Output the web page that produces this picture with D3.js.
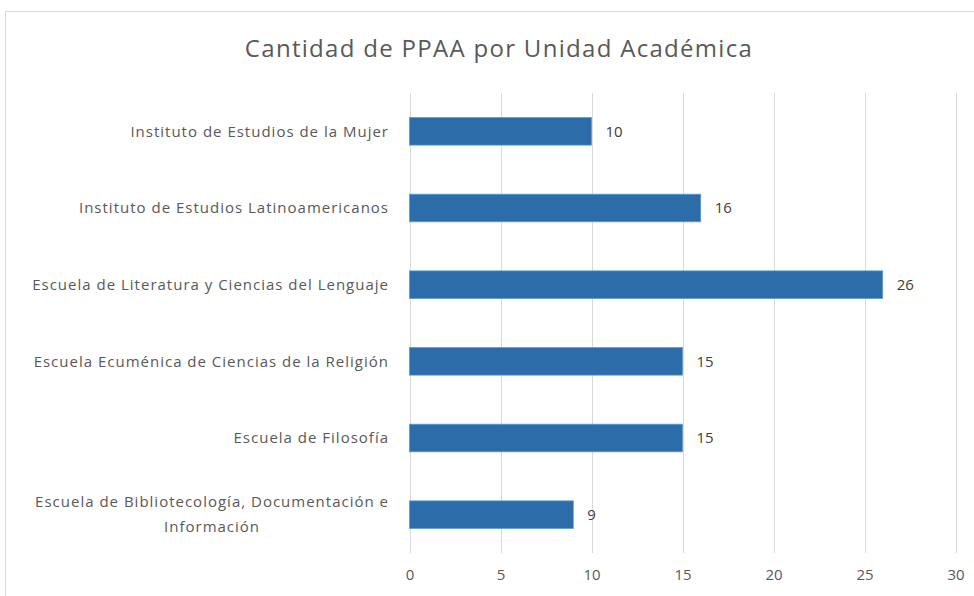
<!DOCTYPE html>
<meta charset="utf-8">
<script src="https://d3js.org/d3.v7.min.js"></script>
<style>
  body { margin: 0; background: #fff; }
  text { font-family: "Open Sans", "Noto Sans", sans-serif; }
</style>
<body>
<div id="chart"></div>
<script>
  // data (top to bottom)
  var categories = [
    "Instituto de Estudios de la Mujer",
    "Instituto de Estudios Latinoamericanos",
    "Escuela de Literatura y Ciencias del Lenguaje",
    "Escuela Ecuménica de Ciencias de la Religión",
    "Escuela de Filosofía",
    "Escuela de Bibliotecología, Documentación e|Información"
  ];
  var values = [10, 16, 26, 15, 15, 9];
  var xTicks = [0, 5, 10, 15, 20, 25, 30];

  var width = 974, height = 596;
  var margin = { top: 93, left: 409.5, right: 18.5, bottom: 43 };

  var svg = d3.select("#chart").append("svg")
    .attr("width", width)
    .attr("height", height);

  // outer frame of the chart area
  svg.append("rect")
    .attr("x", 5.5).attr("y", 11.5)
    .attr("width", width + 10).attr("height", height + 10)
    .attr("fill", "#fff")
    .attr("stroke", "#d9d9d9");

  // title
  svg.append("text")
    .attr("x", 499).attr("y", 57)
    .attr("text-anchor", "middle")
    .attr("font-size", "24px")
    .attr("letter-spacing", "1.3px")
    .attr("fill", "#595959")
    .text("Cantidad de PPAA por Unidad Académica");

  var x = d3.scaleLinear().domain([0, 30]).range([margin.left, width - margin.right]);
  var y = d3.scaleBand().domain(categories)
    .range([margin.top, height - margin.bottom])
    .paddingInner(0.64).paddingOuter(0.32);

  // gridlines
  svg.append("g").selectAll("line")
    .data(xTicks)
    .enter().append("line")
    .attr("x1", function (d) { return Math.round(x(d)) + 0.5; })
    .attr("x2", function (d) { return Math.round(x(d)) + 0.5; })
    .attr("y1", margin.top)
    .attr("y2", height - margin.bottom)
    .attr("stroke", "#d9d9d9")
    .attr("stroke-width", 1);

  // x axis labels
  var xAxis = svg.append("g")
    .attr("transform", "translate(0," + (height - margin.bottom) + ")")
    .call(d3.axisBottom(x).tickValues(xTicks).tickSize(0).tickPadding(16));
  xAxis.select(".domain").remove();
  xAxis.selectAll("text")
    .attr("font-family", "Open Sans, Noto Sans, sans-serif")
    .attr("font-size", "15px")
    .attr("fill", "#595959");

  // bars
  svg.append("g").selectAll("rect")
    .data(categories)
    .enter().append("rect")
    .attr("x", x(0))
    .attr("y", function (d) { return y(d); })
    .attr("width", function (d, i) { return x(values[i]) - x(0); })
    .attr("height", y.bandwidth())
    .attr("fill", "#2c6ca8")
    .attr("stroke", "#5b9bd5")
    .attr("stroke-width", 0.8);

  // value labels
  svg.append("g").selectAll("text")
    .data(categories)
    .enter().append("text")
    .attr("x", function (d, i) { return x(values[i]) + 14; })
    .attr("y", function (d) { return y(d) + y.bandwidth() / 2; })
    .attr("dy", "0.35em")
    .attr("font-size", "15px")
    .attr("fill", "#404040")
    .text(function (d, i) { return values[i]; });

  // category labels (wrapped label is centred under its first line)
  var labelRight = 389;
  var labels = svg.append("g")
    .attr("font-size", "15px")
    .attr("letter-spacing", "1px")
    .attr("fill", "#595959");
  categories.forEach(function (c) {
    var lines = c.split("|");
    var cy = y(c) + y.bandwidth() / 2;
    if (lines.length === 1) {
      labels.append("text")
        .attr("x", labelRight)
        .attr("y", cy)
        .attr("dy", "0.35em")
        .attr("text-anchor", "end")
        .text(c);
    } else {
      var t1 = labels.append("text")
        .attr("x", labelRight)
        .attr("y", cy - 12.5)
        .attr("dy", "0.35em")
        .attr("text-anchor", "end")
        .text(lines[0]);
      var w = t1.node().getComputedTextLength();
      labels.append("text")
        .attr("x", labelRight - w / 2)
        .attr("y", cy + 12.5)
        .attr("dy", "0.35em")
        .attr("text-anchor", "middle")
        .text(lines[1]);
    }
  });
</script>
</body>
